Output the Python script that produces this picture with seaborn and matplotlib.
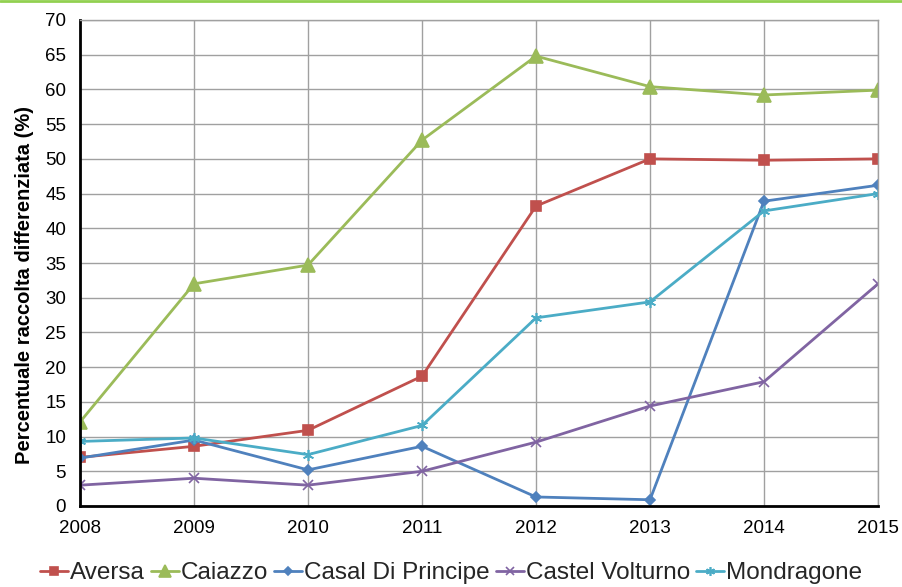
import matplotlib
matplotlib.use("Agg")
import matplotlib.pyplot as plt
from matplotlib.lines import Line2D
import seaborn as sns
import pandas as pd

years = [2008, 2009, 2010, 2011, 2012, 2013, 2014, 2015]
aversa = [7.0, 8.6, 10.9, 18.7, 43.2, 50.0, 49.8, 50.0]
caiazzo = [12.1, 32.0, 34.7, 52.7, 64.8, 60.4, 59.2, 59.9]
casal = [6.9, 9.5, 5.2, 8.6, 1.3, 0.9, 43.9, 46.2]
castel = [3.0, 4.0, 3.0, 5.0, 9.2, 14.4, 17.9, 32.0]
mondragone = [9.3, 9.8, 7.4, 11.6, 27.1, 29.4, 42.5, 45.0]
names = ["Aversa", "Caiazzo", "Casal Di Principe", "Castel Volturno", "Mondragone"]
series = [aversa, caiazzo, casal, castel, mondragone]
ylabel = "Percentuale raccolta differenziata (%)"

colors = ["#C0504D", "#9BBB59", "#4F81BD", "#8064A2", "#4BACC6"]
markers = ["s", "^", "D", "x", (6, 2, 0)]
msizes = [7, 10, 5.5, 7, 8]

sns.set_theme(style="white")
plt.rcParams["font.family"] = ["Liberation Sans", "DejaVu Sans"]

fig = plt.figure(figsize=(9.02, 5.87), dpi=100)
ax = fig.add_axes([80 / 902, 1 - 506 / 587, (878 - 80) / 902, (506 - 20) / 587])

for name, vals, c, m, ms in zip(names, series, colors, markers, msizes):
    df = pd.DataFrame({"Anno": years, "Valore": vals})
    sns.lineplot(data=df, x="Anno", y="Valore", ax=ax, color=c, linewidth=2.0,
                 marker=m, markersize=ms, markeredgecolor=c, markerfacecolor=c,
                 markeredgewidth=1.2, label=name, legend=False)

ax.set_xlim(2008, 2015)
ax.set_ylim(0, 70)
ax.set_xticks(years)
ax.set_yticks(range(0, 71, 5))
ax.grid(True, color="#A0A0A0", linewidth=1.0)
ax.set_axisbelow(True)
for s in ["top", "right"]:
    ax.spines[s].set_color("#A0A0A0")
    ax.spines[s].set_linewidth(1.0)
for s in ["left", "bottom"]:
    ax.spines[s].set_color("black")
    ax.spines[s].set_linewidth(2.0)
ax.tick_params(axis="both", which="major", direction="out", length=6, width=2,
               color="black", labelsize=13.5, labelcolor="black", pad=4)
ax.set_xlabel("")
ax.set_ylabel(ylabel, fontsize=14.5, fontweight="bold", color="black")
ax.yaxis.set_label_coords(-0.058, 0.455)

handles, labels = ax.get_legend_handles_labels()
fig.legend(handles, labels, loc="center", bbox_to_anchor=(0.5, 1 - 573 / 587),
           ncol=5, frameon=False, fontsize=17.5, handlelength=1.15, handletextpad=0.08,
           columnspacing=0.25, borderaxespad=0, markerscale=0.8)

fig.add_artist(Line2D([0, 1], [1 - 1 / 587, 1 - 1 / 587], transform=fig.transFigure,
                      color="#92D050", linewidth=2))

fig.savefig("out.png", dpi=100)
